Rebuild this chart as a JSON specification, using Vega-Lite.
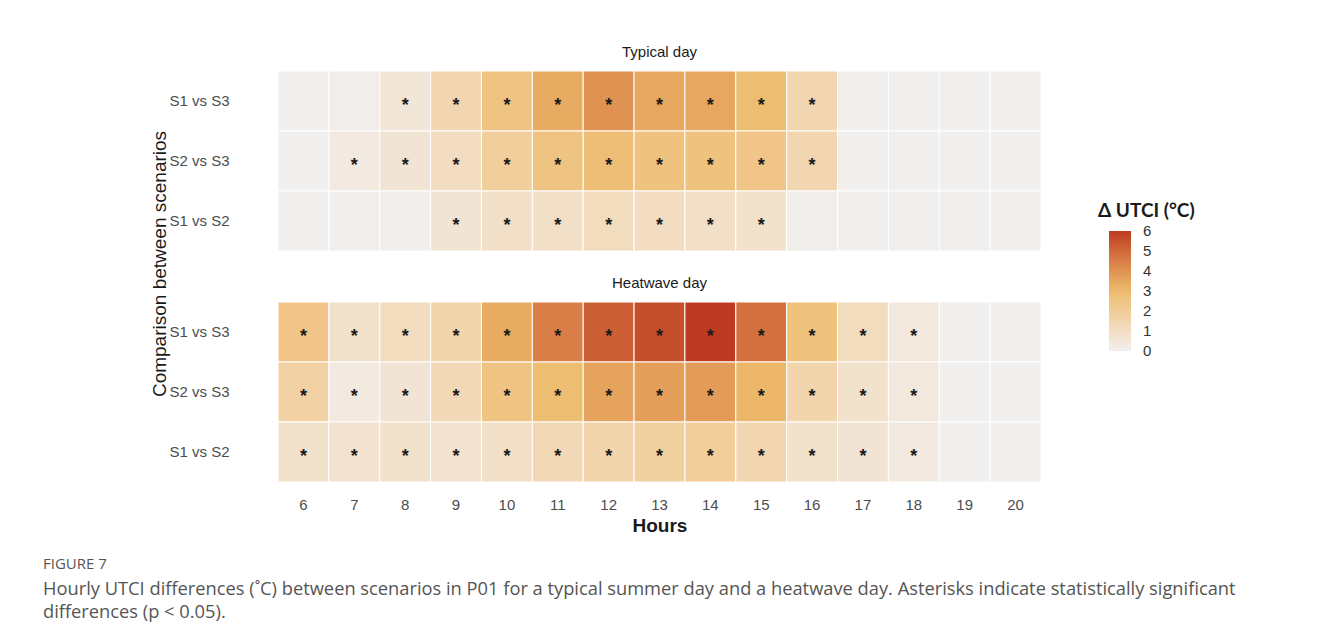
{
  "$schema": "https://vega.github.io/schema/vega-lite/v6.json",
  "background": "white",
  "padding": {"left": 42, "top": 44, "right": 5, "bottom": 5},
  "title": {
    "text": "FIGURE 7",
    "subtitle": ["Hourly UTCI differences (˚C) between scenarios in P01 for a typical summer day and a heatwave day. Asterisks indicate statistically significant", "differences (p < 0.05)."],
    "orient": "bottom",
    "anchor": "start",
    "dx": -108,
    "offset": 22,
    "font": "Open Sans",
    "fontSize": 15,
    "fontWeight": "normal",
    "color": "#555555",
    "subtitleFont": "Open Sans",
    "subtitleFontSize": 18.3,
    "subtitleColor": "#555555",
    "subtitleLineHeight": 23,
    "subtitlePadding": 9
  },
  "data": {"values": [
    {"day":"Typical day","comp":"S1 vs S3","hour":6,"v":0,"sig":0},
    {"day":"Typical day","comp":"S1 vs S3","hour":7,"v":0.1,"sig":0},
    {"day":"Typical day","comp":"S1 vs S3","hour":8,"v":0.5,"sig":1},
    {"day":"Typical day","comp":"S1 vs S3","hour":9,"v":1.4,"sig":1},
    {"day":"Typical day","comp":"S1 vs S3","hour":10,"v":2.5,"sig":1},
    {"day":"Typical day","comp":"S1 vs S3","hour":11,"v":3.4,"sig":1},
    {"day":"Typical day","comp":"S1 vs S3","hour":12,"v":4.0,"sig":1},
    {"day":"Typical day","comp":"S1 vs S3","hour":13,"v":3.5,"sig":1},
    {"day":"Typical day","comp":"S1 vs S3","hour":14,"v":3.5,"sig":1},
    {"day":"Typical day","comp":"S1 vs S3","hour":15,"v":2.9,"sig":1},
    {"day":"Typical day","comp":"S1 vs S3","hour":16,"v":1.4,"sig":1},
    {"day":"Typical day","comp":"S1 vs S3","hour":17,"v":0,"sig":0},
    {"day":"Typical day","comp":"S1 vs S3","hour":18,"v":0,"sig":0},
    {"day":"Typical day","comp":"S1 vs S3","hour":19,"v":0,"sig":0},
    {"day":"Typical day","comp":"S1 vs S3","hour":20,"v":0,"sig":0},
    {"day":"Typical day","comp":"S2 vs S3","hour":6,"v":0,"sig":0},
    {"day":"Typical day","comp":"S2 vs S3","hour":7,"v":0.3,"sig":1},
    {"day":"Typical day","comp":"S2 vs S3","hour":8,"v":0.6,"sig":1},
    {"day":"Typical day","comp":"S2 vs S3","hour":9,"v":1.0,"sig":1},
    {"day":"Typical day","comp":"S2 vs S3","hour":10,"v":1.9,"sig":1},
    {"day":"Typical day","comp":"S2 vs S3","hour":11,"v":2.5,"sig":1},
    {"day":"Typical day","comp":"S2 vs S3","hour":12,"v":2.8,"sig":1},
    {"day":"Typical day","comp":"S2 vs S3","hour":13,"v":2.6,"sig":1},
    {"day":"Typical day","comp":"S2 vs S3","hour":14,"v":2.6,"sig":1},
    {"day":"Typical day","comp":"S2 vs S3","hour":15,"v":2.4,"sig":1},
    {"day":"Typical day","comp":"S2 vs S3","hour":16,"v":1.4,"sig":1},
    {"day":"Typical day","comp":"S2 vs S3","hour":17,"v":0,"sig":0},
    {"day":"Typical day","comp":"S2 vs S3","hour":18,"v":0,"sig":0},
    {"day":"Typical day","comp":"S2 vs S3","hour":19,"v":0,"sig":0},
    {"day":"Typical day","comp":"S2 vs S3","hour":20,"v":0,"sig":0},
    {"day":"Typical day","comp":"S1 vs S2","hour":6,"v":0,"sig":0},
    {"day":"Typical day","comp":"S1 vs S2","hour":7,"v":0,"sig":0},
    {"day":"Typical day","comp":"S1 vs S2","hour":8,"v":0.05,"sig":0},
    {"day":"Typical day","comp":"S1 vs S2","hour":9,"v":0.6,"sig":1},
    {"day":"Typical day","comp":"S1 vs S2","hour":10,"v":0.9,"sig":1},
    {"day":"Typical day","comp":"S1 vs S2","hour":11,"v":0.9,"sig":1},
    {"day":"Typical day","comp":"S1 vs S2","hour":12,"v":1.1,"sig":1},
    {"day":"Typical day","comp":"S1 vs S2","hour":13,"v":1.0,"sig":1},
    {"day":"Typical day","comp":"S1 vs S2","hour":14,"v":0.9,"sig":1},
    {"day":"Typical day","comp":"S1 vs S2","hour":15,"v":0.8,"sig":1},
    {"day":"Typical day","comp":"S1 vs S2","hour":16,"v":0.1,"sig":0},
    {"day":"Typical day","comp":"S1 vs S2","hour":17,"v":0,"sig":0},
    {"day":"Typical day","comp":"S1 vs S2","hour":18,"v":0,"sig":0},
    {"day":"Typical day","comp":"S1 vs S2","hour":19,"v":0,"sig":0},
    {"day":"Typical day","comp":"S1 vs S2","hour":20,"v":0,"sig":0},
    {"day":"Heatwave day","comp":"S1 vs S3","hour":6,"v":2.4,"sig":1},
    {"day":"Heatwave day","comp":"S1 vs S3","hour":7,"v":0.8,"sig":1},
    {"day":"Heatwave day","comp":"S1 vs S3","hour":8,"v":1.1,"sig":1},
    {"day":"Heatwave day","comp":"S1 vs S3","hour":9,"v":1.5,"sig":1},
    {"day":"Heatwave day","comp":"S1 vs S3","hour":10,"v":3.4,"sig":1},
    {"day":"Heatwave day","comp":"S1 vs S3","hour":11,"v":4.5,"sig":1},
    {"day":"Heatwave day","comp":"S1 vs S3","hour":12,"v":5.2,"sig":1},
    {"day":"Heatwave day","comp":"S1 vs S3","hour":13,"v":5.6,"sig":1},
    {"day":"Heatwave day","comp":"S1 vs S3","hour":14,"v":6.0,"sig":1},
    {"day":"Heatwave day","comp":"S1 vs S3","hour":15,"v":4.8,"sig":1},
    {"day":"Heatwave day","comp":"S1 vs S3","hour":16,"v":2.6,"sig":1},
    {"day":"Heatwave day","comp":"S1 vs S3","hour":17,"v":1.1,"sig":1},
    {"day":"Heatwave day","comp":"S1 vs S3","hour":18,"v":0.4,"sig":1},
    {"day":"Heatwave day","comp":"S1 vs S3","hour":19,"v":0,"sig":0},
    {"day":"Heatwave day","comp":"S1 vs S3","hour":20,"v":0,"sig":0},
    {"day":"Heatwave day","comp":"S2 vs S3","hour":6,"v":1.7,"sig":1},
    {"day":"Heatwave day","comp":"S2 vs S3","hour":7,"v":0.3,"sig":1},
    {"day":"Heatwave day","comp":"S2 vs S3","hour":8,"v":0.6,"sig":1},
    {"day":"Heatwave day","comp":"S2 vs S3","hour":9,"v":1.3,"sig":1},
    {"day":"Heatwave day","comp":"S2 vs S3","hour":10,"v":2.5,"sig":1},
    {"day":"Heatwave day","comp":"S2 vs S3","hour":11,"v":2.9,"sig":1},
    {"day":"Heatwave day","comp":"S2 vs S3","hour":12,"v":3.6,"sig":1},
    {"day":"Heatwave day","comp":"S2 vs S3","hour":13,"v":3.7,"sig":1},
    {"day":"Heatwave day","comp":"S2 vs S3","hour":14,"v":3.8,"sig":1},
    {"day":"Heatwave day","comp":"S2 vs S3","hour":15,"v":3.1,"sig":1},
    {"day":"Heatwave day","comp":"S2 vs S3","hour":16,"v":1.5,"sig":1},
    {"day":"Heatwave day","comp":"S2 vs S3","hour":17,"v":0.8,"sig":1},
    {"day":"Heatwave day","comp":"S2 vs S3","hour":18,"v":0.4,"sig":1},
    {"day":"Heatwave day","comp":"S2 vs S3","hour":19,"v":0,"sig":0},
    {"day":"Heatwave day","comp":"S2 vs S3","hour":20,"v":0,"sig":0},
    {"day":"Heatwave day","comp":"S1 vs S2","hour":6,"v":0.8,"sig":1},
    {"day":"Heatwave day","comp":"S1 vs S2","hour":7,"v":0.7,"sig":1},
    {"day":"Heatwave day","comp":"S1 vs S2","hour":8,"v":0.8,"sig":1},
    {"day":"Heatwave day","comp":"S1 vs S2","hour":9,"v":0.7,"sig":1},
    {"day":"Heatwave day","comp":"S1 vs S2","hour":10,"v":0.9,"sig":1},
    {"day":"Heatwave day","comp":"S1 vs S2","hour":11,"v":1.3,"sig":1},
    {"day":"Heatwave day","comp":"S1 vs S2","hour":12,"v":1.5,"sig":1},
    {"day":"Heatwave day","comp":"S1 vs S2","hour":13,"v":1.8,"sig":1},
    {"day":"Heatwave day","comp":"S1 vs S2","hour":14,"v":1.9,"sig":1},
    {"day":"Heatwave day","comp":"S1 vs S2","hour":15,"v":1.4,"sig":1},
    {"day":"Heatwave day","comp":"S1 vs S2","hour":16,"v":0.8,"sig":1},
    {"day":"Heatwave day","comp":"S1 vs S2","hour":17,"v":0.6,"sig":1},
    {"day":"Heatwave day","comp":"S1 vs S2","hour":18,"v":0.3,"sig":1},
    {"day":"Heatwave day","comp":"S1 vs S2","hour":19,"v":0,"sig":0},
    {"day":"Heatwave day","comp":"S1 vs S2","hour":20,"v":0,"sig":0}
  ]},
  "facet": {
    "row": {
      "field": "day",
      "type": "nominal",
      "sort": ["Typical day", "Heatwave day"],
      "title": "Comparison between scenarios",
      "header": {
        "labelOrient": "top",
        "labelAnchor": "middle",
        "labelFont": "Liberation Sans",
        "labelFontSize": 15,
        "labelColor": "#1a1a1a",
        "labelPadding": 11,
        "titleOrient": "left",
        "titleAngle": 270,
        "titleFont": "Liberation Sans",
        "titleFontSize": 19,
        "titleFontWeight": "normal",
        "titleColor": "#1a1a1a",
        "titlePadding": -31
      }
    }
  },
  "spacing": 23,
  "spec": {
    "width": 763,
    "height": 180,
    "layer": [
      {
        "mark": {"type": "rect", "stroke": "white", "strokeWidth": 1},
        "encoding": {
          "x": {"field": "hour", "type": "ordinal", "title": "Hours",
            "scale": {"paddingInner": 0, "paddingOuter": 0},
            "axis": {"labelAngle": 0, "ticks": false, "domain": false, "labelFont": "Liberation Sans", "labelFontSize": 15, "labelColor": "#4d4d4d", "labelPadding": 14,
              "titleFont": "Liberation Sans", "titleFontSize": 19, "titleFontWeight": "bold", "titleColor": "#1a1a1a", "titlePadding": 4}},
          "y": {"field": "comp", "type": "nominal", "sort": ["S1 vs S3", "S2 vs S3", "S1 vs S2"], "title": null,
            "scale": {"paddingInner": 0, "paddingOuter": 0},
            "axis": {"ticks": false, "domain": false, "labelFont": "Liberation Sans", "labelFontSize": 15, "labelColor": "#4d4d4d", "labelPadding": 48}},
          "color": {"field": "v", "type": "quantitative", "title": "Δ UTCI (°C)",
            "scale": {"domain": [0, 3, 6], "range": ["#f1efee", "#edbb6d", "#be3a22"], "interpolate": "lab"},
            "legend": {"orient": "none", "legendX": 820, "legendY": 131, "values": [0, 1, 2, 3, 4, 5, 6], "labelOverlap": false,
              "gradientLength": 120, "gradientThickness": 22, "titleFont": "Lato", "titleFontSize": 19, "titleFontWeight": "bold", "titleColor": "#1a1a1a", "titlePadding": 10,
              "labelFont": "Liberation Sans", "labelFontSize": 15, "labelColor": "#333333", "labelOffset": 12,
              "encode": {
                "labels": {"update": {"baseline": {"value": "middle"}}},
                "title": {"update": {"dx": {"value": -11}}}
              }}}
        }
      },
      {
        "transform": [{"filter": "datum.sig == 1"}],
        "mark": {"type": "text", "text": "*", "font": "Liberation Sans", "fontSize": 18, "fontWeight": "bold", "color": "#1a1a1a", "baseline": "middle", "dy": 5},
        "encoding": {
          "x": {"field": "hour", "type": "ordinal"},
          "y": {"field": "comp", "type": "nominal", "sort": ["S1 vs S3", "S2 vs S3", "S1 vs S2"]}
        }
      }
    ]
  },
  "config": {"view": {"stroke": null}, "axis": {"grid": false}}
}
